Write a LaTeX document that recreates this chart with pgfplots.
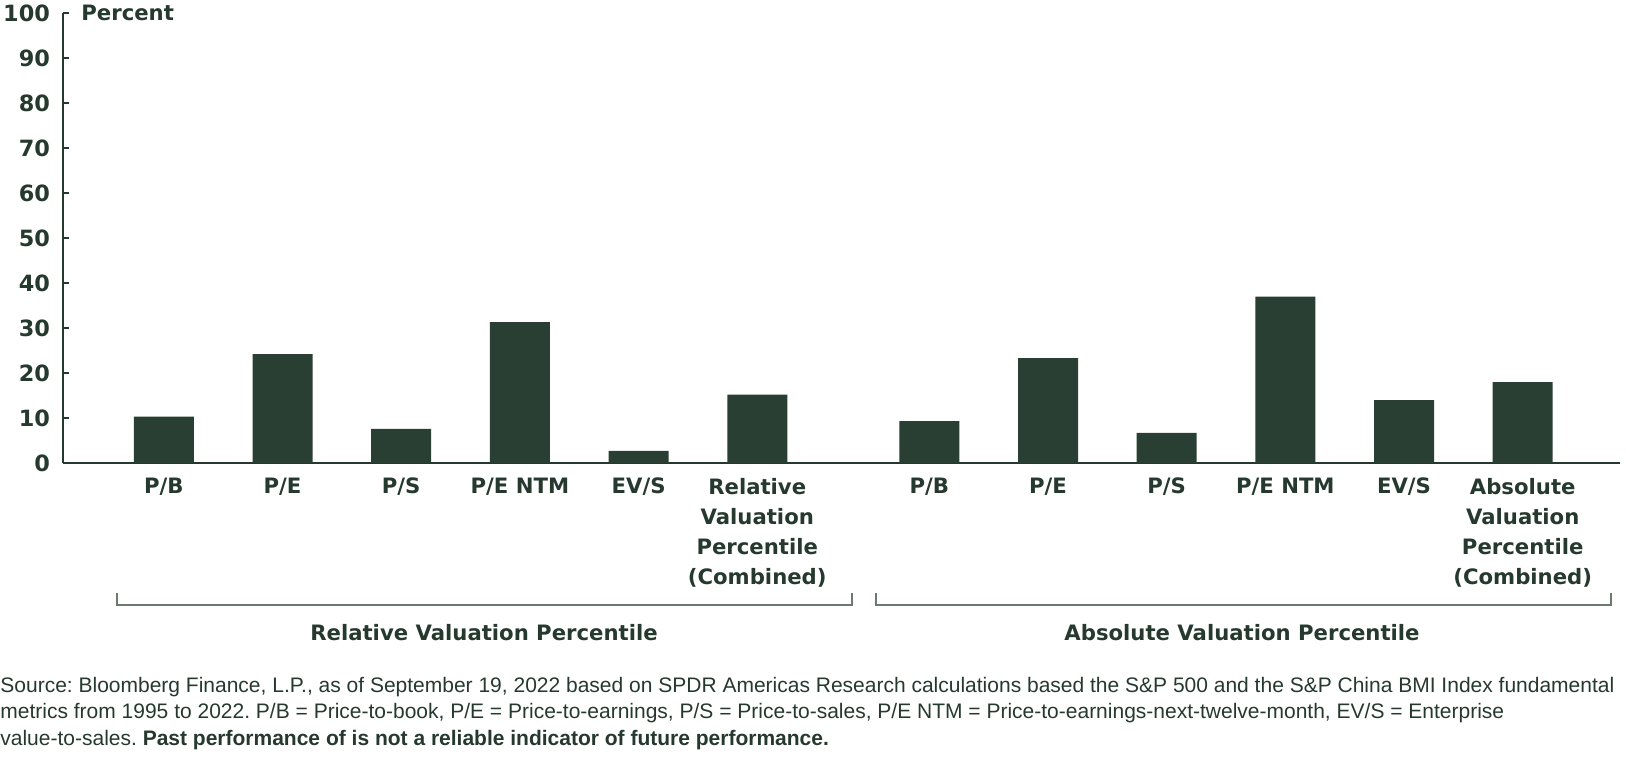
\documentclass[border=0pt]{standalone}
\usepackage{fontspec}
\setmainfont{Liberation Sans}
\newfontfamily\labfont{DejaVu Sans}
\usepackage{pgfplots}
\pgfplotsset{compat=1.18}
\definecolor{barcol}{HTML}{293F33}
\definecolor{txtcol}{HTML}{26392E}
\definecolor{brkcol}{HTML}{6B7A70}
\newcommand{\labf}{\labfont\bfseries\fontsize{10.6}{15}\selectfont}
\frenchspacing
\begin{document}
\begin{tikzpicture}
\begin{axis}[
  at={(0,0)}, anchor=south west,
  scale only axis, width=778.5pt, height=225pt,
  xmin=0.15, xmax=13.27, ymin=0, ymax=100,
  axis x line=bottom, axis y line=left,
  axis line style={-, txtcol, line width=0.8pt},
  ytick={0,10,...,100},
  xtick={1,2,3,4,5,6,7.45,8.45,9.45,10.45,11.45,12.45},
  xticklabels={P/B, P/E, P/S, P/E NTM, EV/S, {Relative\\Valuation\\Percentile\\(Combined)},
               P/B, P/E, P/S, P/E NTM, EV/S, {Absolute\\Valuation\\Percentile\\(Combined)}},
  x tick style={draw=none},
  y tick style={txtcol, line width=0.8pt},
  tick align=inside, major tick length=3pt,
  /pgf/number format/assume math mode=true,
  yticklabel style={font=\labfont\bfseries\fontsize{11.2}{15}\selectfont, text=txtcol, xshift=-3pt},
  xticklabel style={font=\labf, text=txtcol, align=center, anchor=north, yshift=-1pt},
  ybar, bar width=30pt,
]
\addplot[fill=barcol, draw=none] coordinates {
  (1,10.3) (2,24.2) (3,7.6) (4,31.3) (5,2.7) (6,15.2)
  (7.45,9.3) (8.45,23.3) (9.45,6.7) (10.45,37.0) (11.45,14.0) (12.45,18.0)
};
\end{axis}
\node[anchor=base west, inner sep=0pt, font=\labf, text=txtcol] at (9pt,221pt) {Percent};
\draw[brkcol, line width=0.6pt] (27pt,-65pt) -- (27pt,-71pt) -- (394.5pt,-71pt) -- (394.5pt,-65pt);
\draw[brkcol, line width=0.6pt] (406.5pt,-65pt) -- (406.5pt,-71pt) -- (774pt,-71pt) -- (774pt,-65pt);
\node[font=\labf, text=txtcol] at (210.5pt,-85pt) {Relative Valuation Percentile};
\node[font=\labf, text=txtcol] at (589.5pt,-85pt) {Absolute Valuation Percentile};
\begin{scope}[every node/.style={anchor=base west, inner sep=0pt, text=txtcol, font=\fontsize{10.5}{12}\selectfont}]
\node at (-31.5pt,-114.5pt) {Source: Bloomberg Finance, L.P., as of September 19, 2022 based on SPDR Americas Research calculations based the S\&P 500 and the S\&P China BMI Index fundamental};
\node at (-31.5pt,-127.75pt) {metrics from 1995 to 2022. P/B = Price-to-book, P/E = Price-to-earnings, P/S = Price-to-sales, P/E NTM = Price-to-earnings-next-twelve-month, EV/S = Enterprise};
\node at (-31.5pt,-141pt) {value-to-sales. \textbf{Past performance of is not a reliable indicator of future performance.}};
\end{scope}
\pgfresetboundingbox
\useasboundingbox (-31.5pt,-148.5pt) rectangle (781.5pt,231.5pt);
\end{tikzpicture}
\end{document}
